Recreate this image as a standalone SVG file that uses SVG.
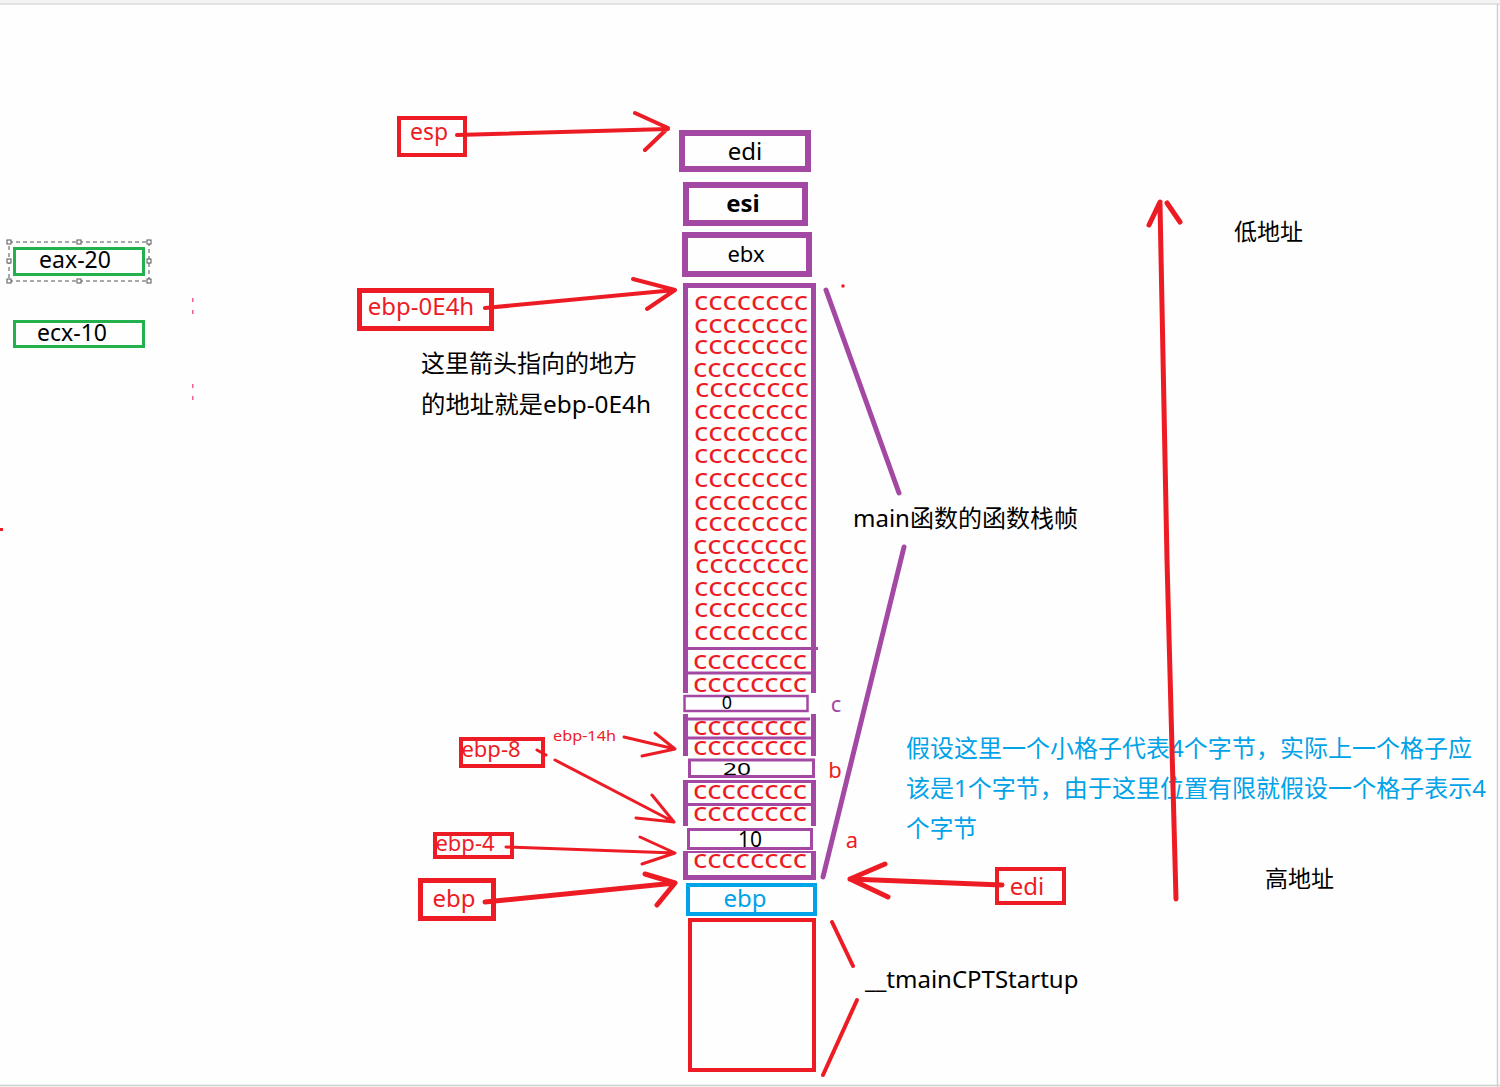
<svg xmlns="http://www.w3.org/2000/svg" width="1500" height="1087" viewBox="0 0 1500 1087">
<style>
text{font-family:"Noto Sans","Noto Sans CJK SC",sans-serif}
.blk{fill:#000;font-size:24px}
.red{fill:#ed1c24}
.pb{fill:none;stroke:#a349a4}
.rb{fill:none;stroke:#ed1c24}
.gb{fill:none;stroke:#22b14c;stroke-width:3}
.cc{fill:#ed1c24;font-size:26px}
.arr{fill:none;stroke:#ed1c24;stroke-linecap:round;stroke-linejoin:round}
.pl{fill:none;stroke:#a349a4;stroke-width:5;stroke-linecap:round}
.div{stroke:#a349a4;stroke-width:3}
.h{fill:#fff;stroke:#555;stroke-width:1}
.bt{fill:#00a2e8;font-size:24px}
</style>
<rect width="1500" height="1087" fill="#fefefe"/>
<rect x="0" y="0" width="1500" height="3" fill="#f3f3f3"/>
<line x1="0" y1="4" x2="1500" y2="4" stroke="#e3e3e3" stroke-width="2"/>
<line x1="1497.5" y1="4" x2="1497.5" y2="1087" stroke="#cfcfcf" stroke-width="1.5"/>
<line x1="0" y1="1085.5" x2="1500" y2="1085.5" stroke="#cfcfcf" stroke-width="1.5"/>

<g id="reg-eax">
<rect x="9" y="242" width="140" height="39" fill="none" stroke="#555" stroke-width="1" stroke-dasharray="4 3"/>
<rect x="7" y="240" width="4" height="4" class="h"/><rect x="77" y="240" width="4" height="4" class="h"/><rect x="147" y="240" width="4" height="4" class="h"/>
<rect x="7" y="259" width="4" height="4" class="h"/><rect x="147" y="259" width="4" height="4" class="h"/>
<rect x="7" y="279" width="4" height="4" class="h"/><rect x="77" y="279" width="4" height="4" class="h"/><rect x="147" y="279" width="4" height="4" class="h"/>
<rect x="14.5" y="248.5" width="129" height="26" class="gb"/>
<text x="75" y="268" class="blk" text-anchor="middle" style="font-size:23px">eax-20</text>
</g>
<g id="reg-ecx">
<rect x="14.5" y="321.5" width="129" height="25" class="gb"/>
<text x="72" y="341" class="blk" text-anchor="middle" style="font-size:23px">ecx-10</text>
</g>
<g id="marks" fill="#f06090">
<rect x="192" y="298" width="1.5" height="4"/><rect x="192" y="310" width="1.5" height="4"/>
<rect x="192" y="384" width="1.5" height="4"/><rect x="192" y="396" width="1.5" height="4"/>
<rect x="0" y="528" width="3" height="3" fill="#ed1c24"/>
<circle cx="843" cy="286" r="1.8" fill="#ed1c24"/>
</g>

<g id="stack-edi">
<rect x="682" y="133" width="126" height="36" class="pb" stroke-width="6"/>
<text x="745" y="160" class="blk" text-anchor="middle">edi</text>
</g>
<g id="stack-esi">
<rect x="686" y="185" width="119" height="38" class="pb" stroke-width="6"/>
<text x="743" y="212" class="blk" text-anchor="middle" font-weight="bold">esi</text>
</g>
<g id="stack-ebx">
<rect x="685" y="235" width="124" height="39" class="pb" stroke-width="6"/>
<text x="746" y="262" class="blk" text-anchor="middle" style="font-size:22px">ebx</text>
</g>

<g id="stack-locals">
<rect x="685.5" y="285.5" width="128" height="592" class="pb" stroke-width="5"/>
<g class="cc">
<text x="694" y="310" textLength="114" lengthAdjust="spacingAndGlyphs">cccccccc</text>
<text x="694" y="333" textLength="114" lengthAdjust="spacingAndGlyphs">cccccccc</text>
<text x="694" y="354" textLength="114" lengthAdjust="spacingAndGlyphs">cccccccc</text>
<text x="693" y="377" textLength="114" lengthAdjust="spacingAndGlyphs">cccccccc</text>
<text x="695" y="397" textLength="114" lengthAdjust="spacingAndGlyphs">cccccccc</text>
<text x="694" y="419" textLength="114" lengthAdjust="spacingAndGlyphs">cccccccc</text>
<text x="694" y="441" textLength="114" lengthAdjust="spacingAndGlyphs">cccccccc</text>
<text x="694" y="463" textLength="114" lengthAdjust="spacingAndGlyphs">cccccccc</text>
<text x="694" y="487" textLength="114" lengthAdjust="spacingAndGlyphs">cccccccc</text>
<text x="694" y="510" textLength="114" lengthAdjust="spacingAndGlyphs">cccccccc</text>
<text x="694" y="531" textLength="114" lengthAdjust="spacingAndGlyphs">cccccccc</text>
<text x="693" y="554" textLength="114" lengthAdjust="spacingAndGlyphs">cccccccc</text>
<text x="695" y="573" textLength="114" lengthAdjust="spacingAndGlyphs">cccccccc</text>
<text x="694" y="596" textLength="114" lengthAdjust="spacingAndGlyphs">cccccccc</text>
<text x="694" y="617" textLength="114" lengthAdjust="spacingAndGlyphs">cccccccc</text>
<text x="694" y="640" textLength="114" lengthAdjust="spacingAndGlyphs">cccccccc</text>
<text x="693" y="669" textLength="114" lengthAdjust="spacingAndGlyphs">cccccccc</text>
<text x="693" y="692" textLength="114" lengthAdjust="spacingAndGlyphs">cccccccc</text>
<text x="693" y="735" textLength="114" lengthAdjust="spacingAndGlyphs">cccccccc</text>
<text x="693" y="755" textLength="114" lengthAdjust="spacingAndGlyphs">cccccccc</text>
<text x="693" y="799" textLength="114" lengthAdjust="spacingAndGlyphs">cccccccc</text>
<text x="693" y="821" textLength="114" lengthAdjust="spacingAndGlyphs">cccccccc</text>
<text x="693" y="868" textLength="114" lengthAdjust="spacingAndGlyphs">cccccccc</text>
</g>
<line x1="683" y1="648.5" x2="818" y2="648.5" class="div"/>
<line x1="683" y1="673" x2="815" y2="673" class="div"/>
<line x1="685" y1="719" x2="810" y2="719" class="div"/>
<line x1="683" y1="738" x2="815" y2="738" class="div"/>
<line x1="683" y1="781.5" x2="815" y2="781.5" class="div"/>
<line x1="683" y1="804.5" x2="815" y2="804.5" class="div"/>
<line x1="683" y1="851.5" x2="815" y2="851.5" class="div"/>
</g>
<g id="cell-c">
<rect x="681" y="693" width="138" height="21" fill="#fff"/>
<rect x="684.5" y="696" width="123" height="15" fill="#fff" class="pb" stroke-width="2.5"/>
<text x="727" y="709" class="blk" text-anchor="middle" style="font-size:18px">0</text>
</g>
<g id="cell-b">
<rect x="681" y="756" width="138" height="24" fill="#fff"/>
<rect x="689.5" y="760" width="124" height="16.5" fill="#fff" class="pb" stroke-width="3"/>
<text x="723" y="775" class="blk" textLength="28" lengthAdjust="spacingAndGlyphs" style="font-size:17px">20</text>
</g>
<g id="cell-a">
<rect x="681" y="826" width="138" height="25" fill="#fff"/>
<rect x="688.5" y="829.5" width="123" height="19" fill="#fff" class="pb" stroke-width="3"/>
<text x="750" y="847" class="blk" text-anchor="middle" style="font-size:21px">10</text>
</g>
<g id="stack-ebp">
<rect x="688" y="885" width="127" height="29" fill="none" stroke="#00a2e8" stroke-width="4"/>
<text x="745" y="907" text-anchor="middle" style="fill:#00a2e8;font-size:24px">ebp</text>
</g>
<g id="stack-caller">
<rect x="690" y="920" width="124" height="150" class="rb" stroke-width="4"/>
</g>

<g id="lbl-esp">
<rect x="399" y="118" width="66" height="37" class="rb" stroke-width="4"/>
<text x="429" y="140" class="red" text-anchor="middle" style="font-size:23px">esp</text>
</g>
<g id="lbl-ebp0e4h">
<rect x="359.5" y="290.5" width="132" height="38" class="rb" stroke-width="5"/>
<text x="421" y="315" class="red" text-anchor="middle" style="font-size:24px">ebp-0E4h</text>
</g>
<g id="note-ebp0e4h">
<text x="421" y="372" class="blk" textLength="216" lengthAdjust="spacingAndGlyphs">这里箭头指向的地方</text>
<text x="421" y="413" class="blk" textLength="230" lengthAdjust="spacingAndGlyphs">的地址就是ebp-0E4h</text>
</g>
<g id="lbl-ebp14h">
<text x="553" y="741" class="red" textLength="63" lengthAdjust="spacingAndGlyphs" style="font-size:15px">ebp-14h</text>
</g>
<g id="lbl-ebp8">
<rect x="461" y="739" width="82" height="27" class="rb" stroke-width="4"/>
<text x="491" y="757" class="red" text-anchor="middle" style="font-size:22px">ebp-8</text>
</g>
<g id="lbl-ebp4">
<rect x="435" y="834" width="77" height="23" class="rb" stroke-width="4"/>
<text x="465" y="851" class="red" text-anchor="middle" style="font-size:22px">ebp-4</text>
</g>
<g id="lbl-ebp">
<rect x="420.5" y="880.5" width="73" height="38" class="rb" stroke-width="5"/>
<text x="454" y="907" class="red" text-anchor="middle" style="font-size:24px">ebp</text>
</g>
<g id="lbl-edi">
<rect x="997" y="869" width="67" height="34" class="rb" stroke-width="4"/>
<text x="1027" y="895" class="red" text-anchor="middle" style="font-size:24px">edi</text>
</g>

<g id="frame-labels">
<text x="853" y="527" class="blk">main函数的函数栈帧</text>
<text x="836" y="712" text-anchor="middle" style="fill:#a349a4;font-size:22px">c</text>
<text x="835" y="778" class="red" text-anchor="middle" style="font-size:22px">b</text>
<text x="852" y="848" class="red" text-anchor="middle" style="font-size:22px">a</text>
<text x="865" y="988" class="blk">__tmainCPTStartup</text>
<text x="1234" y="240" class="blk" style="font-size:23px">低地址</text>
<text x="1265" y="887" class="blk" style="font-size:23px">高地址</text>
</g>
<g id="note-blue">
<text x="906" y="757" class="bt" textLength="566" lengthAdjust="spacingAndGlyphs">假设这里一个小格子代表4个字节，实际上一个格子应</text>
<text x="906" y="797" class="bt" textLength="580" lengthAdjust="spacingAndGlyphs">该是1个字节，由于这里位置有限就假设一个格子表示4</text>
<text x="906" y="837" class="bt" textLength="71" lengthAdjust="spacingAndGlyphs">个字节</text>
</g>

<g id="connectors">
<path d="M457 135 L668 129 M635 113 L668 128 L645 150" class="arr" stroke-width="4"/>
<path d="M485 308 L675 290 M633 279 L675 290 L647 309" class="arr" stroke-width="4"/>
<path d="M624 737 L675 749 M655 733 L675 749 L642 756" class="arr" stroke-width="3"/>
<path d="M537 750 L546 755 M555 760 L674 822 M652 795 L674 822 L636 818" class="arr" stroke-width="3"/>
<path d="M506 847 L675 853 M640 837 L675 853 L642 864" class="arr" stroke-width="3"/>
<path d="M485 902 L675 883 M645 874 L675 883 L657 905" class="arr" stroke-width="5"/>
<path d="M1002 885 L850 879 M885 864 L850 879 L888 897" class="arr" stroke-width="5"/>
<path d="M1176 899 L1167 560 L1160 204 M1149 225 L1160 202 M1167 203 L1180 222" class="arr" stroke-width="5"/>
<path d="M832 922 L853 966 M857 1000 L823 1075" class="arr" stroke-width="4"/>
<path d="M826 290 L899 493 M904 547 L823 877" class="pl"/>
</g>
</svg>
